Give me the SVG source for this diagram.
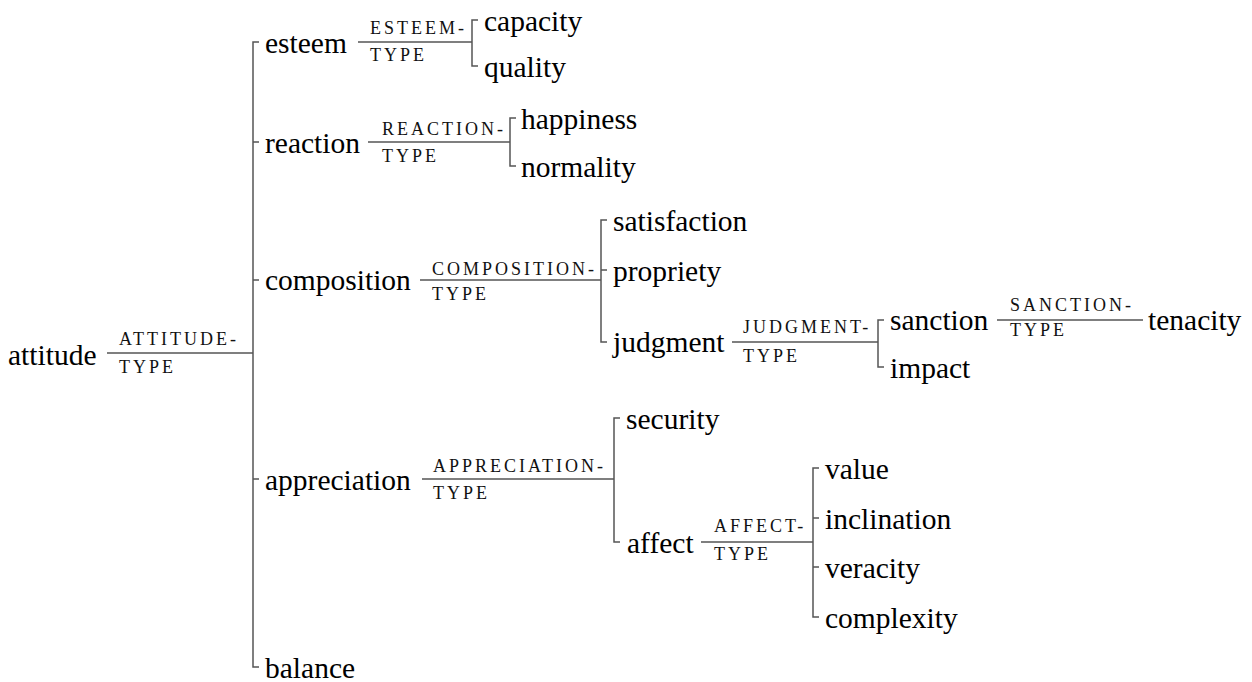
<svg xmlns="http://www.w3.org/2000/svg" width="1252" height="682" viewBox="0 0 1252 682">
<style>
.n{font-family:'Liberation Serif','Times New Roman','DejaVu Serif',serif;font-size:29.5px;fill:#000}
.l{font-family:'Liberation Serif','Times New Roman','DejaVu Serif',serif;font-size:18px;letter-spacing:3px;fill:#111}
.c{fill:none;stroke:#555;stroke-width:1.5}
</style>
<rect width="1252" height="682" fill="#fff"/>
<g id="connectors">
<path class="c" d="M107,353H253"/>
<path class="c" d="M259,42H253V667H259M253,142H259M253,280H259M253,479H259"/>
<text class="l" x="119" y="345">ATTITUDE-</text><text class="l" x="119" y="373">TYPE</text>
<path class="c" d="M358,42H472"/>
<path class="c" d="M478,20H472V66H478"/>
<text class="l" x="370" y="34">ESTEEM-</text><text class="l" x="370" y="61">TYPE</text>
<path class="c" d="M368,142H510"/>
<path class="c" d="M516,118H510V166H516"/>
<text class="l" x="382" y="135">REACTION-</text><text class="l" x="382" y="162">TYPE</text>
<path class="c" d="M420,280H601"/>
<path class="c" d="M607,220H601V342H607M601,270H607"/>
<text class="l" x="432" y="275">COMPOSITION-</text><text class="l" x="432" y="300">TYPE</text>
<path class="c" d="M732,342H878"/>
<path class="c" d="M884,320H878V367H884"/>
<text class="l" x="743" y="333">JUDGMENT-</text><text class="l" x="743" y="362">TYPE</text>
<path class="c" d="M997,320H1143"/>
<text class="l" x="1010" y="311">SANCTION-</text><text class="l" x="1010" y="336">TYPE</text>
<path class="c" d="M422,479H614"/>
<path class="c" d="M620,418H614V542H620"/>
<text class="l" x="433" y="472">APPRECIATION-</text><text class="l" x="433" y="499">TYPE</text>
<path class="c" d="M701,542H813"/>
<path class="c" d="M819,468H813V617H819M813,518H819M813,567H819"/>
<text class="l" x="714" y="532">AFFECT-</text><text class="l" x="714" y="560">TYPE</text>
</g>
<g id="attitude"><text class="n" x="8" y="365">attitude</text></g>
<g id="esteem"><text class="n" x="265" y="53">esteem</text></g>
<g id="capacity"><text class="n" x="484" y="31">capacity</text></g>
<g id="quality"><text class="n" x="484" y="77">quality</text></g>
<g id="reaction"><text class="n" x="265" y="153">reaction</text></g>
<g id="happiness"><text class="n" x="521" y="129">happiness</text></g>
<g id="normality"><text class="n" x="521" y="177">normality</text></g>
<g id="composition"><text class="n" x="265" y="290">composition</text></g>
<g id="satisfaction"><text class="n" x="613" y="231">satisfaction</text></g>
<g id="propriety"><text class="n" x="613" y="281">propriety</text></g>
<g id="judgment"><text class="n" x="613" y="352">judgment</text></g>
<g id="sanction"><text class="n" x="890" y="330">sanction</text></g>
<g id="tenacity"><text class="n" x="1148" y="330">tenacity</text></g>
<g id="impact"><text class="n" x="890" y="378">impact</text></g>
<g id="appreciation"><text class="n" x="265" y="490">appreciation</text></g>
<g id="security"><text class="n" x="626" y="429">security</text></g>
<g id="affect"><text class="n" x="627" y="553">affect</text></g>
<g id="value"><text class="n" x="825" y="479">value</text></g>
<g id="inclination"><text class="n" x="825" y="529">inclination</text></g>
<g id="veracity"><text class="n" x="825" y="578">veracity</text></g>
<g id="complexity"><text class="n" x="825" y="628">complexity</text></g>
<g id="balance"><text class="n" x="265" y="678">balance</text></g>
</svg>
